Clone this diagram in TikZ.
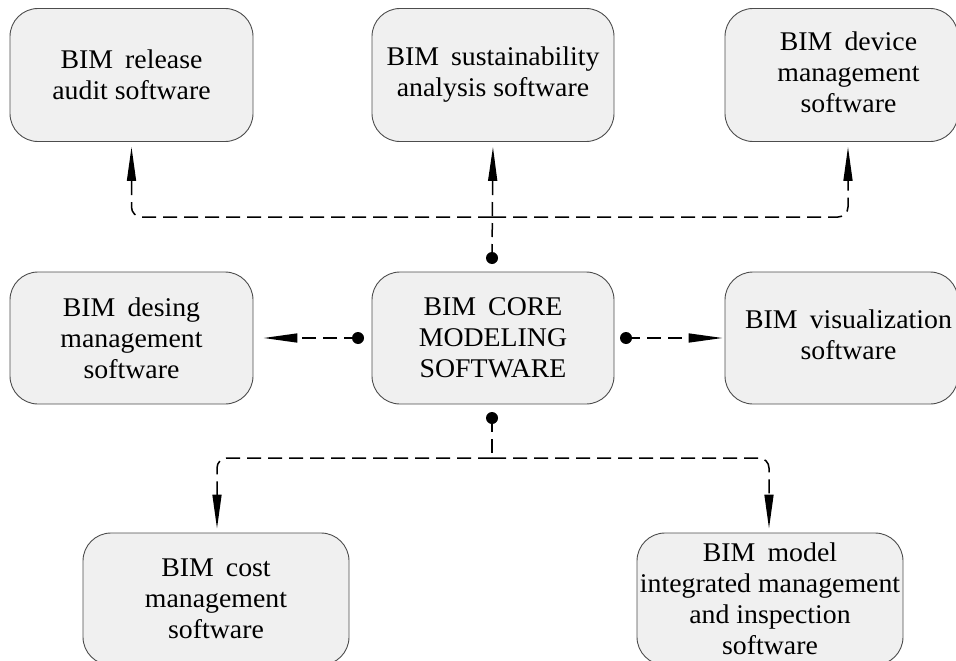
\documentclass[tikz,border=0pt]{standalone}
\usepackage{fontspec}
\setmainfont[FakeStretch=1.03]{Liberation Serif}
\usetikzlibrary{arrows.meta}

\newcommand\bimgap{\hspace{0.45em}}

\tikzset{
  softbox/.style={draw=black!70, line width=0.9pt, fill=black!6,
    rounded corners=28pt, minimum width=243pt, minimum height=133pt,
    align=center, inner sep=2pt,
    font=\fontsize{27}{31}\selectfont},
  link/.style={draw=black, line width=1.5pt, dash pattern=on 14pt off 7pt},
  tip/.style={-{Triangle[length=34pt,width=9pt]}},
  hub/.style={fill=black},
}

\begin{document}
\begin{tikzpicture}[x=1pt,y=-1pt]
\useasboundingbox (0,0) rectangle (956,661);

% upper row
\node[softbox] (rel) at (131.5,75) {BIM\bimgap release\\audit software};
\node[softbox, minimum width=242pt] (sus) at (493,75) {BIM\bimgap sustainability\\analysis software};
\node[softbox, minimum width=233pt] (dev) at (841.5,75)
  {\hspace*{14pt}\begin{tabular}{@{}c@{}}BIM\bimgap device\\management\\software\end{tabular}};

% middle row
\node[softbox, minimum height=132pt] (des) at (131.5,338) {BIM\bimgap desing\\management\\software};
\node[softbox, minimum width=242pt, minimum height=132pt] (core) at (493,338) {BIM\bimgap CORE\\MODELING\\SOFTWARE};
\node[softbox, minimum width=233pt, minimum height=132pt] (vis) at (841.5,338)
  {\hspace*{14pt}\begin{tabular}{@{}c@{}}BIM\bimgap visualization\\software\end{tabular}};

% lower row
\node[softbox, minimum width=266pt, minimum height=132pt] (cost) at (216,599) {BIM\bimgap cost\\management\\software};
\node[softbox, minimum width=266pt, minimum height=132pt] (model) at (770,599)
  {BIM\bimgap model\\integrated management\\and inspection\\software};

% connection points next to the core box
\coordinate (tdot) at (492,258);
\coordinate (thub) at (492,217);
\coordinate (ldot) at (358,338);
\coordinate (rdot) at (626,338);
\coordinate (bdot) at (492,418);
\coordinate (bhub) at (492,458);

% upward branch
\draw[link, tip, shorten >=5pt] (tdot) -- (sus.south);
\draw[link, tip, rounded corners=10pt, shorten >=5pt] (thub) -| (rel.south);
\draw[link, tip, rounded corners=10pt, shorten >=5pt] (thub) -| ([xshift=6.5pt]dev.south);

% sideways branches
\draw[link, tip, shorten >=10pt] (ldot) -- (des.east);
\draw[link, tip, shorten >=2pt] (rdot) -- (vis.west);

% downward branch
\draw[link] (bdot) -- (bhub);
\draw[link, tip, rounded corners=10pt, shorten >=4pt] (bhub) -| ([xshift=1pt]cost.north);
\draw[link, tip, rounded corners=10pt, shorten >=4pt] (bhub) -| ([xshift=-1pt]model.north);

% junction dots
\foreach \p in {tdot,ldot,rdot,bdot} \fill[hub] (\p) circle (6pt);
\end{tikzpicture}
\end{document}
